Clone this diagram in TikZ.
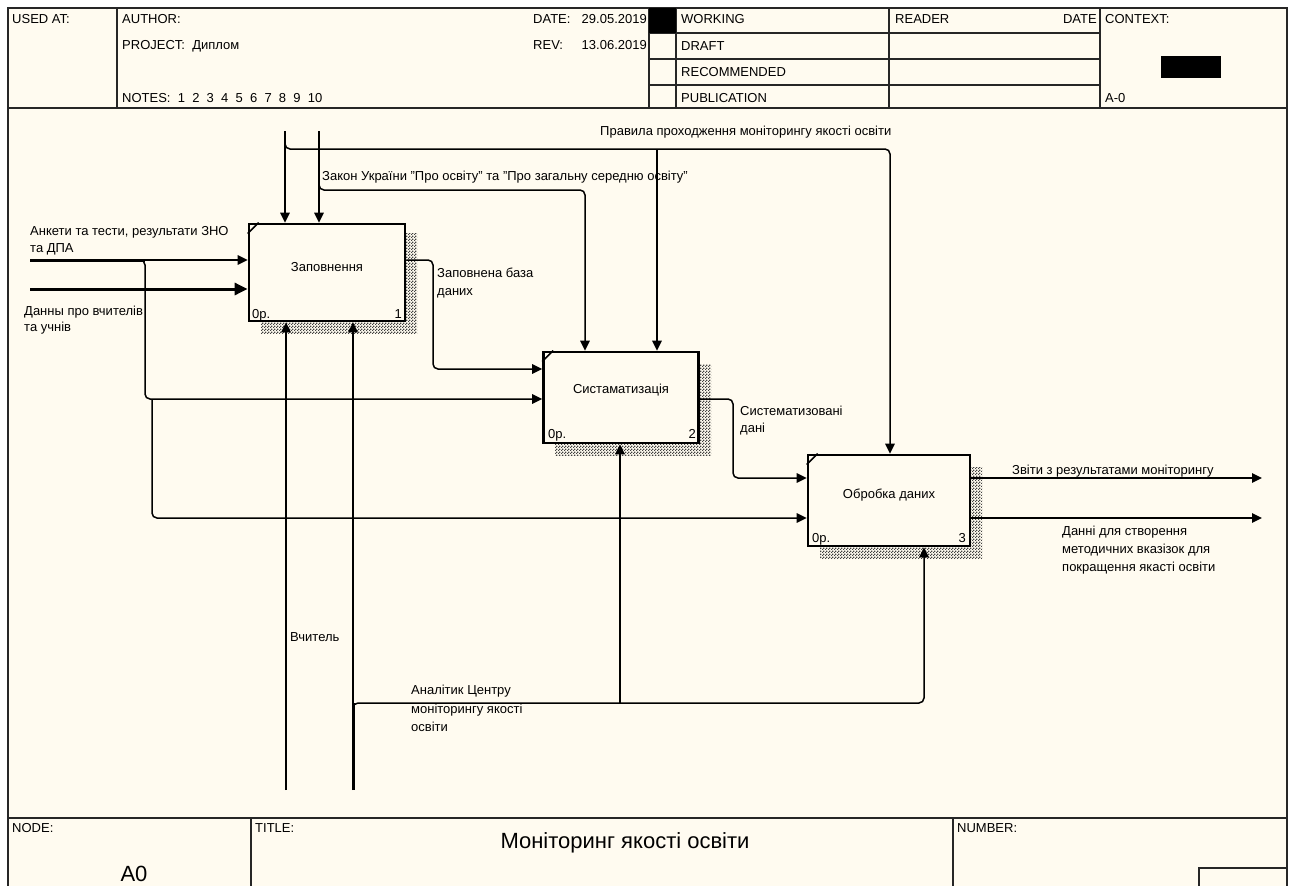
\documentclass[tikz,border=0pt]{standalone}
\usepackage{fontspec}
\setmainfont{Liberation Sans}
\usetikzlibrary{arrows.meta,patterns}
\definecolor{paper}{RGB}{255,251,240}
\newcommand\mylblfont{\fontsize{13}{15}\selectfont}
\pgfdeclarepatternformonly{idefcheck}{\pgfpointorigin}{\pgfpoint{3pt}{3pt}}{\pgfpoint{3pt}{3pt}}{%
  \pgfpathrectangle{\pgfpointorigin}{\pgfpoint{1.5pt}{1.5pt}}%
  \pgfpathrectangle{\pgfpoint{1.5pt}{1.5pt}}{\pgfpoint{1.5pt}{1.5pt}}%
  \pgfusepath{fill}}
\begin{document}
\begin{tikzpicture}[x=1pt,y=-1pt,
  frame/.style={line width=1.4pt,draw=black!85},
  box/.style={draw,line width=2.8pt,fill=paper,inner sep=0pt},
  tab/.style={line width=1.6pt},
  shadow/.style={pattern=idefcheck,pattern color=black!75},
  conn/.style={line width=1.5pt,rounded corners=5pt},
  arr/.style={conn,-{Triangle[length=10pt,width=9.5pt]}},
  heavy/.style={line width=3pt},
  lbl/.style={anchor=base west,inner sep=0pt,font=\mylblfont},
  lble/.style={anchor=base east,inner sep=0pt,font=\mylblfont},
  lblc/.style={anchor=base,inner sep=0pt,font=\mylblfont}]
\useasboundingbox (0,0) rectangle (1291,886);
\fill[white] (0,0) rectangle (1291,886);
\fill[paper] (8,8) rectangle (1287,886);

% ---------- header ----------
\draw[frame] (8,886) -- (8,8) -- (1287,8) -- (1287,886);
\draw[frame] (8,108) -- (1287,108);
\foreach \xx in {117,649,676,889,1100} \draw[frame] (\xx,8) -- (\xx,108);
\foreach \yy in {33,59,85} \draw[frame] (649,\yy) -- (1100,\yy);
\fill[black] (649,8) rectangle (676,33);
\fill[black] (1161,56) rectangle (1221,78);

\node[lbl] (usedat) at (12,23.5) {USED AT:};
\node[lbl] (author) at (122,23.5) {AUTHOR:};
\node[lbl] (project) at (122,49.5) {PROJECT:~~Диплом};
\node[lbl] (notes) at (122,102.5) {NOTES:~~1~~2~~3~~4~~5~~6~~7~~8~~9~~10};
\node[lbl] (date) at (533,23.5) {DATE:};
\node[lble] (dateval) at (647,23.5) {29.05.2019};
\node[lbl] (rev) at (533,49.5) {REV:};
\node[lble] (revval) at (647,49.5) {13.06.2019};
\node[lbl] (working) at (681,23.5) {WORKING};
\node[lbl] (draft) at (681,50.5) {DRAFT};
\node[lbl] (recom) at (681,76.5) {RECOMMENDED};
\node[lbl] (publ) at (681,102.5) {PUBLICATION};
\node[lbl] (reader) at (895,23.5) {READER};
\node[lble] (rdate) at (1097,23.5) {DATE};
\node[lbl] (context) at (1105,23.5) {CONTEXT:};
\node[lbl] (ctxa) at (1105,102.5) {A-0};

% ---------- footer ----------
\draw[frame] (8,818) -- (1287,818);
\draw[frame] (251,818) -- (251,886);
\draw[frame] (953,818) -- (953,886);
\draw[frame] (1199,886) -- (1199,868) -- (1287,868);
\node[lbl] (nodelbl) at (12,832.5) {NODE:};
\node[lbl] (titlelbl) at (255,832.5) {TITLE:};
\node[lbl] (numlbl) at (957,832.5) {NUMBER:};
\node[anchor=base,inner sep=0pt,font=\fontsize{22}{26}\selectfont] (title) at (625,848) {Моніторинг якості освіти};
\node[anchor=base,inner sep=0pt,font=\fontsize{22}{26}\selectfont] (nodeid) at (134,881) {A0};

% ---------- boxes ----------
\fill[shadow] (261,233) rectangle (417,333);
\fill[shadow] (555,364) rectangle (711,455);
\fill[shadow] (820,467) rectangle (982,558);
\node[box,minimum width=156pt,minimum height=97pt] (b1) at (327,272.5) {};
\node[box,minimum width=155pt,minimum height=91pt] (b2) at (621,397.5) {};
\node[box,minimum width=162pt,minimum height=91pt] (b3) at (889,500.5) {};
\draw[tab] ([yshift=-11pt]b1.north west) -- ([xshift=11pt]b1.north west);
\draw[tab] ([yshift=-11pt]b2.north west) -- ([xshift=11pt]b2.north west);
\draw[tab] ([yshift=-11pt]b3.north west) -- ([xshift=11pt]b3.north west);
\node[lblc] (t1) at (327,271.5) {Заповнення};
\node[lblc] (t2) at (621,393.5) {Систаматизація};
\node[lblc] (t3) at (889,498.5) {Обробка даних};
\node[lbl] (p1) at (252,318) {0р.};
\node[lble] (n1) at (402,318) {1};
\node[lbl] (p2) at (548,438) {0р.};
\node[lble] (n2) at (696,438) {2};
\node[lbl] (p3) at (812,542) {0р.};
\node[lble] (n3) at (966,542) {3};

% ---------- coordinates ----------
\coordinate (c1s) at (285,131);
\coordinate (c2s) at (319,131);
\coordinate (j1) at (285,141);
\coordinate (k1) at (890,149);
\coordinate (j1b) at (657,149);
\coordinate (j2) at (319,182);
\coordinate (k2) at (585,190);
\coordinate (i1s) at (30,260);
\coordinate (i2s) at (30,289);
\coordinate (j3) at (145,260);
\coordinate (j3a) at (139,260);
\coordinate (k3) at (145,399);
\coordinate (j5) at (152,399);
\coordinate (k5) at (0,518);
\coordinate (k4) at (433,369);
\coordinate (k6) at (733,478);
\coordinate (o1e) at (1262,478);
\coordinate (o2e) at (1262,518);
\coordinate (m1s) at (286,790);
\coordinate (m2s) at (353,790);
\coordinate (j4) at (353,703);
\coordinate (j4a) at (353,710);
\coordinate (k7) at (924,703);
\coordinate (j6) at (620,703);

% ---------- controls ----------
\draw[arr] (c1s) -- (c1s |- b1.north);
\draw[arr] (c2s) -- (c2s |- b1.north);
\draw[arr] (j1) |- (k1) -- (b3.north -| k1);
\draw[arr] (j1b) -- (b2.north -| j1b);
\draw[arr] (j2) |- (k2) -- (b2.north -| k2);

% ---------- inputs ----------
\draw[heavy] (i1s) -- (j3);
\draw[arr] (j3) -- (b1.west |- i1s);
\draw[arr] (j3a) -| (k3) -- (b2.west |- k3);
\draw[arr] (j5) |- (b3.west |- k5);
\draw[heavy,-{Triangle[length=13pt,width=12pt]}] (i2s) -- (b1.west |- i2s);

% ---------- internal flows ----------
\draw[arr] (b1.east |- i1s) -| (k4) -- (b2.west |- k4);
\draw[arr] (b2.east |- k3) -| (k6) -- (b3.west |- k6);

% ---------- outputs ----------
\draw[arr] (b3.east |- o1e) -- (o1e);
\draw[arr] (b3.east |- o2e) -- (o2e);

% ---------- mechanisms ----------
\draw[arr] (m1s) -- (m1s |- b1.south);
\draw[heavy] (m2s) -- (j4);
\draw[arr] (j4) -- (j4 |- b1.south);
\draw[arr] (j4a) |- (k7) -- (b3.south -| k7);
\draw[arr] (j6) -- (b2.south -| j6);

% ---------- labels ----------
\node[lbl] (lrules) at (600,135.5) {Правила проходження моніторингу якості освіти};
\node[lbl] (llaw) at (322,180.5) {Закон України "Про освіту" та "Про загальну середню освіту"};
\node[lbl] (lin1a) at (30,235.5) {Анкети та тести, результати ЗНО};
\node[lbl] (lin1b) at (30,252.5) {та ДПА};
\node[lbl] (lin2a) at (24,315.5) {Данны про вчителів};
\node[lbl] (lin2b) at (24,331.5) {та учнів};
\node[lbl] (lo1a) at (437,277.5) {Заповнена база};
\node[lbl] (lo1b) at (437,295.5) {даних};
\node[lbl] (lo2a) at (740,415.5) {Систематизовані};
\node[lbl] (lo2b) at (740,432.5) {дані};
\node[lbl] (lout1) at (1012,474.5) {Звіти з результатами моніторингу};
\node[lbl] (lout2a) at (1062,535.5) {Данні для створення};
\node[lbl] (lout2b) at (1062,553.5) {методичних вказізок для};
\node[lbl] (lout2c) at (1062,571.5) {покращення якасті освіти};
\node[lbl] (lm1) at (290,641.5) {Вчитель};
\node[lbl] (lm2a) at (411,694.5) {Аналітик Центру};
\node[lbl] (lm2b) at (411,713.5) {моніторингу якості};
\node[lbl] (lm2c) at (411,731.5) {освіти};
\end{tikzpicture}
\end{document}
